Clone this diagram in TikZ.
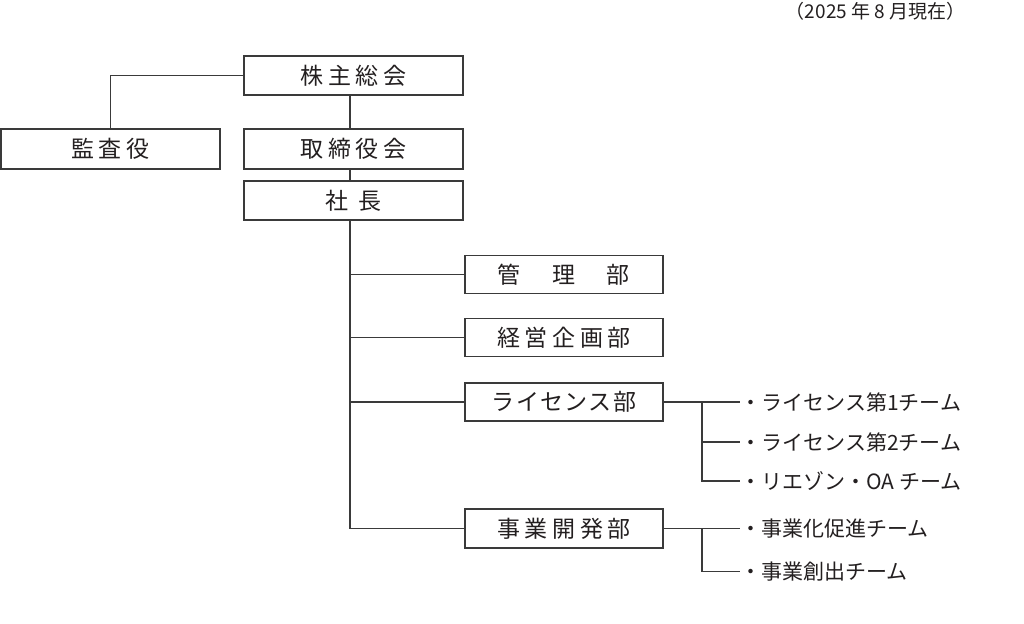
\documentclass[tikz,border=0pt]{standalone}
\usepackage{fontspec}
\setmainfont{Noto Sans CJK JP}
\definecolor{linegray}{HTML}{3A3A3A}
\definecolor{textgray}{HTML}{231F20}
\begin{document}
\begin{tikzpicture}[x=1pt,y=-1pt,line width=1.2pt,draw=linegray,
    orgbox/.style={draw=linegray,fill=white,text=textgray,inner sep=0pt,minimum height=39pt,
      font=\fontsize{23}{23}\selectfont\addfontfeature{LetterSpace=20}},
    topbox/.style={orgbox,minimum width=219pt},
    deptbox/.style={orgbox,minimum width=198pt,minimum height=38pt},
    team/.style={anchor=west,inner sep=0pt,text=textgray,font=\fontsize{21}{21}\selectfont}]
    \useasboundingbox (0,0) rectangle (1024,623);
    \node[anchor=east,inner sep=0pt,text=textgray,font=\fontsize{19}{19}\selectfont] (asof) at (966,11) {（2025 年 8 月現在）};
    % top
    \node[topbox] (soukai) at (353.5,75.5) {株主総会};
    \node[topbox,minimum height=40pt] (kansa) at (110.5,149) {監査役};
    \node[topbox,minimum height=40pt] (torishimari) at (353.5,149) {取締役会};
    \node[topbox] (shacho) at (353.5,200.5) {社\hspace{0.45em}長};
    % departments
    \node[deptbox] (kanri) at (564,274.5) {管\hspace{1.37em}理\hspace{1.37em}部};
    \node[deptbox] (keiei) at (564,337.5) {経営企画部};
    \node[deptbox,font=\fontsize{23}{23}\selectfont\addfontfeature{LetterSpace=6}] (license) at (564,402) {ライセンス部};
    \node[deptbox,minimum height=39pt] (jigyo) at (564,528.5) {事業開発部};
    % teams
    \node[team] (lic1) at (740,402) {・ライセンス第1チーム};
    \node[team] (lic2) at (740,442) {・ライセンス第2チーム};
    \node[team] (liaison) at (740,481) {・リエゾン・OA チーム};
    \node[team] (sokushin) at (740,528.5) {・事業化促進チーム};
    \node[team] (soshutsu) at (740,571.5) {・事業創出チーム};
    \coordinate (trunk) at ([xshift=-3.5pt]soukai.south);
    \coordinate (fork) at (702,0);
    \draw (soukai.west) -| (kansa.north);
    \draw (trunk) -- (trunk |- torishimari.north);
    \draw (trunk |- torishimari.south) -- (trunk |- shacho.north);
    \draw (trunk |- shacho.south) -- (trunk |- jigyo.west);
    \foreach \d in {kanri,keiei,license,jigyo}
        \draw (trunk |- \d.west) -- (\d.west);
    \draw (license.east) -- (lic1.west);
    \draw (fork |- license.east) |- (liaison.west);
    \draw (fork |- lic2.west) -- (lic2.west);
    \draw (jigyo.east) -- (sokushin.west);
    \draw (fork |- jigyo.east) |- (soshutsu.west);
\end{tikzpicture}
\end{document}
